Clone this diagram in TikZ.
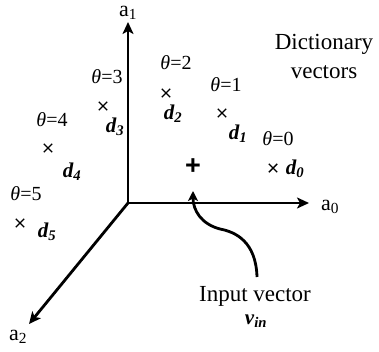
\documentclass[tikz,border=0pt]{standalone}
\usepackage{fontspec}
\setmainfont{Liberation Serif}
\newfontfamily\plusfont{Liberation Sans}
\usetikzlibrary{arrows.meta,shapes.misc}
\begin{document}
\begin{tikzpicture}[x=1pt,y=-1pt,
  axis/.style={line width=2.8pt,-{Stealth[length=12pt,width=11pt,inset=3pt]}},
  curvearrow/.style={line width=2.8pt,-{Stealth[length=10pt,width=10pt,inset=2.5pt]}},
  xmark/.style={cross out,draw,line width=1.4pt,minimum size=7pt,inner sep=0pt},
  thlab/.style={font=\fontsize{20}{22}\selectfont,inner sep=0pt},
  dlab/.style={font=\fontsize{21}{23}\selectfont\bfseries\itshape,inner sep=0pt},
  axlab/.style={font=\fontsize{22}{24}\selectfont,inner sep=0pt},
  txt/.style={font=\fontsize{23}{29}\selectfont,inner sep=0pt,align=center}]
\useasboundingbox (0,0) rectangle (379,351);
% axes
\coordinate (O) at (128,203);
\coordinate (A1) at (128,22);
\coordinate (A0) at (309,203);
\coordinate (A2) at (29,324);
\draw[axis] (O) -- (A1);
\draw[axis] (O) -- (A0);
\draw[axis] (O) -- (A2);
\node[axlab] (la1) at (128,13) {a\textsubscript{1}};
\node[axlab] (la0) at (330,207) {a\textsubscript{0}};
\node[axlab] (la2) at (18,337) {a\textsubscript{2}};
% dictionary points
\node[xmark] (x0) at (273,168) {};
\node[xmark] (x1) at (222,113) {};
\node[xmark] (x2) at (166,93) {};
\node[xmark] (x3) at (103,106) {};
\node[xmark] (x4) at (48,148) {};
\node[xmark] (x5) at (20,223) {};
\node[thlab] (t0) at (278,139) {\textit{θ}=0};
\node[thlab] (t1) at (226,85) {\textit{θ}=1};
\node[thlab] (t2) at (176,63) {\textit{θ}=2};
\node[thlab] (t3) at (107,77) {\textit{θ}=3};
\node[thlab] (t4) at (52,120) {\textit{θ}=4};
\node[thlab] (t5) at (26,194) {\textit{θ}=5};
\node[dlab] (d0) at (295,169) {d\textsubscript{0}};
\node[dlab] (d1) at (238,134) {d\textsubscript{1}};
\node[dlab] (d2) at (173,114) {d\textsubscript{2}};
\node[dlab] (d3) at (115,127) {d\textsubscript{3}};
\node[dlab] (d4) at (72,172) {d\textsubscript{4}};
\node[dlab] (d5) at (47,232) {d\textsubscript{5}};
% input point
\node[inner sep=0pt,font=\fontsize{27}{27}\selectfont\plusfont\bfseries] (plus) at (193,167) {+};
% texts
\node[txt] (dict) at (324,56) {Dictionary\\vectors};
\node[txt] (inp) at (255,296) {Input vector};
\node[dlab] (vin) at (256,321) {v\textsubscript{in}};
% curved arrow
\coordinate (cs) at (257,277);
\coordinate (ce) at (193,191);
\draw[curvearrow] (cs) .. controls (256,242) and (236,232) .. (220,229) .. controls (201,224) and (193,210) .. (ce);
\end{tikzpicture}
\end{document}
